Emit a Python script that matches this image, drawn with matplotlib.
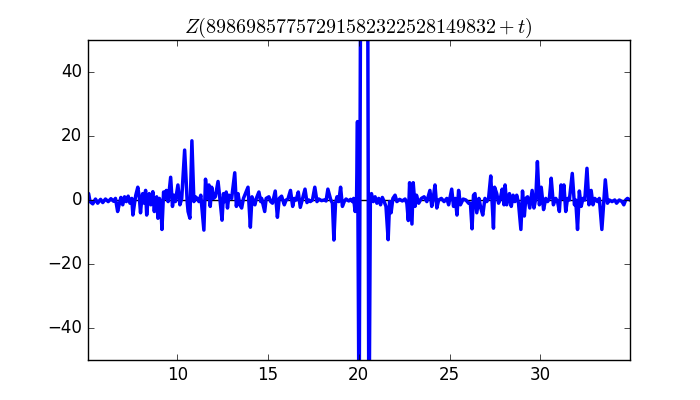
import matplotlib
matplotlib.use("Agg")
import matplotlib.pyplot as plt

plt.style.use("classic")

t_vals = [5.06, 5.12, 5.2, 5.35, 5.5, 5.62, 5.78, 5.9, 6.05, 6.2, 6.35, 6.5, 6.6, 6.72, 6.82, 6.9, 7.0, 7.1, 7.2, 7.3, 7.4, 7.5,
          7.56, 7.65, 7.72, 7.83, 7.92, 7.98, 8.05, 8.1, 8.18, 8.26, 8.32, 8.4, 8.46, 8.55, 8.66, 8.74, 8.8, 8.87, 8.94, 9.02, 9.1, 9.16,
          9.25, 9.33, 9.4, 9.5, 9.64, 9.74, 9.82, 9.9, 10.04, 10.15, 10.25, 10.41, 10.55, 10.6, 10.7, 10.81, 10.92, 11.0, 11.1, 11.2,
          11.3, 11.47, 11.56, 11.65, 11.75, 11.82, 11.9, 12.0, 12.1, 12.25, 12.35, 12.47, 12.55, 12.62, 12.7, 12.77, 12.85, 13.0, 13.17,
          13.26, 13.35, 13.45, 13.55, 13.65, 13.9, 14.03, 14.12, 14.2, 14.28, 14.36, 14.5, 14.6, 14.65, 14.82, 14.9, 15.05, 15.15, 15.25,
          15.4, 15.52, 15.62, 15.75, 15.9, 16.0, 16.1, 16.24, 16.36, 16.45, 16.55, 16.67, 16.78, 16.9, 17.04, 17.15, 17.25, 17.33, 17.45,
          17.58, 17.7, 17.8, 17.95, 18.1, 18.2, 18.3, 18.45, 18.55, 18.63, 18.72, 18.8, 18.9, 19.0, 19.1, 19.2, 19.3, 19.45, 19.55, 19.65,
          19.72, 19.8, 19.88, 19.93, 20.02, 20.13, 20.3, 20.47, 20.56, 20.64,
          20.7, 20.8, 20.9, 21.0, 21.1, 21.2, 21.3, 21.4, 21.5, 21.62, 21.7, 21.78, 21.88, 22.0, 22.1, 22.25, 22.4, 22.55, 22.65, 22.73,
          22.8, 22.93, 23.0, 23.1, 23.18, 23.3, 23.45, 23.6, 23.75, 23.92, 24.02, 24.1, 24.2, 24.3, 24.4, 24.55, 24.7, 24.85, 24.95, 25.12,
          25.22, 25.32, 25.41, 25.5, 25.6, 25.75, 25.9, 26.05, 26.15, 26.24, 26.32, 26.4, 26.5, 26.62, 26.72, 26.83, 26.95, 27.05, 27.15,
          27.27, 27.42, 27.48, 27.6, 27.7, 27.8, 27.9, 28.0, 28.06, 28.15, 28.3, 28.4, 28.5, 28.6, 28.7, 28.8, 28.93, 29.02, 29.12, 29.2,
          29.3, 29.42, 29.55, 29.65, 29.75, 29.84, 29.95, 30.05, 30.18, 30.3, 30.4, 30.5, 30.6, 30.72, 30.85, 30.95, 31.05, 31.14, 31.22,
          31.3, 31.4, 31.5, 31.6, 31.76, 31.88, 31.95, 32.05, 32.15, 32.25, 32.35, 32.45, 32.57, 32.68, 32.8, 32.9, 33.0, 33.15, 33.25,
          33.39, 33.58, 33.7, 33.8, 33.95, 34.1, 34.2, 34.35, 34.5, 34.6, 34.7, 34.8, 34.94]

z_vals = [1.5, 2.0, -0.5, -1.2, 0.3, -1.0, 0.2, -0.8, 0.3, -0.5, 0.4, -0.4, 0.5, -3.6, -1.0, 0.8, -1.5, 1.0, -0.5, 1.2, -1.0, 0.5,
          -4.7, -1.0, 1.5, 4.0, 0.5, -4.0, 0.5, 2.0, -1.0, 3.0, -4.7, 0.5, 2.0, -1.5, 2.6, -3.6, 0.0, 1.0, -5.7, 0.5, -1.5, -9.2,
          2.5, 0.5, 3.0, -0.5, 7.1, -2.0, 1.5, -0.5, 4.7, -1.5, 0.5, 15.6, -0.5, -3.6, -5.7, 18.5, -0.5, 1.0, 0.5, -0.5,
          1.5, -9.4, 6.5, 0.5, 4.7, -2.0, 4.0, 0.5, 1.0, 5.8, 0.5, -6.3, 2.0, -0.5, 2.5, -2.5, 1.5, 0.5, 8.5,
          -2.0, 2.0, -1.5, -2.5, 0.5, 4.0, -8.5, 1.0, -0.5, -1.5, 0.5, 2.5, -0.5, 0.5, -3.6, 0.5, 1.0, -0.5, -1.0,
          2.8, -5.4, 0.5, 1.2, -1.5, 0.0, 0.3, 3.0, -2.0, 0.5, 0.0, 2.5, -2.3, 0.3, 3.4, -0.8, 0.0, -0.5, 0.0,
          4.0, -0.5, 0.3, -0.2, 0.0, -0.3, 3.4, 0.2, -1.0, -12.5, -1.0, 1.0, -0.5, 4.0, -2.0, -0.5, 0.3, -0.3, 0.2, -0.5,
          0.5, -3.6, 0.5, 24.5, -75.0, 120.0, 400.0, 120.0, -80.0, 1.0,
          2.0, -0.5, 1.0, -1.0, 0.5, -1.5, 0.8, -0.5, -2.0, -12.4, -0.5, -4.0, 0.5, 1.5, -0.5, 0.2, -0.3, 0.3, -1.0, -6.4,
          5.4, -7.5, 5.4, -2.0, 1.5, -1.0, 0.5, 1.0, -0.5, 3.0, -2.0, 0.5, 4.7, -2.5, 0.0, 0.5, -0.5, 0.5, -1.5, 3.4,
          -2.0, 0.5, -4.7, 3.0, -1.5, 0.3, 0.0, -1.0, -1.0, -9.0, 1.5, 2.0, -4.0, 0.5, -2.5, -4.7, 0.5, -0.5, 0.5,
          7.5, -8.8, 4.0, 2.0, -1.0, 0.5, 3.4, -1.5, 4.7, -1.5, 2.0, -2.0, 1.5, -0.5, 1.5, -1.0, -9.2, 2.8, -5.0, 0.5,
          1.0, -2.5, 3.0, -2.5, 0.5, 12.0, -1.5, 4.0, -3.0, 0.5, -0.5, 0.5, 6.8, -1.5, 0.5, -0.5, -3.6, 4.7, 0.5,
          4.7, -3.6, 0.5, 0.0, 8.3, -1.5, 0.0, -9.2, 2.8, -2.0, 0.5, 0.0, 9.9, -1.5, 3.0, -1.5, 0.5, -0.5, 0.5,
          -9.2, 6.3, -1.0, 0.0, -0.5, 0.0, -1.0, 0.0, -0.5, -1.5, 0.0, 0.5, 0.0]

title_text = r"$Z(89869857757291582322528149832+t)$"

fig = plt.figure(figsize=(7, 4), dpi=100)
ax = fig.add_subplot(111)
ax.axhline(0, color="k", linewidth=1, zorder=1)
ax.plot(t_vals, z_vals, color="b", linewidth=2.5, zorder=2)
ax.set_xlim(5.06, 34.94)
ax.set_ylim(-50, 50)
ax.set_title(title_text)
fig.savefig("out.png", dpi=100)
